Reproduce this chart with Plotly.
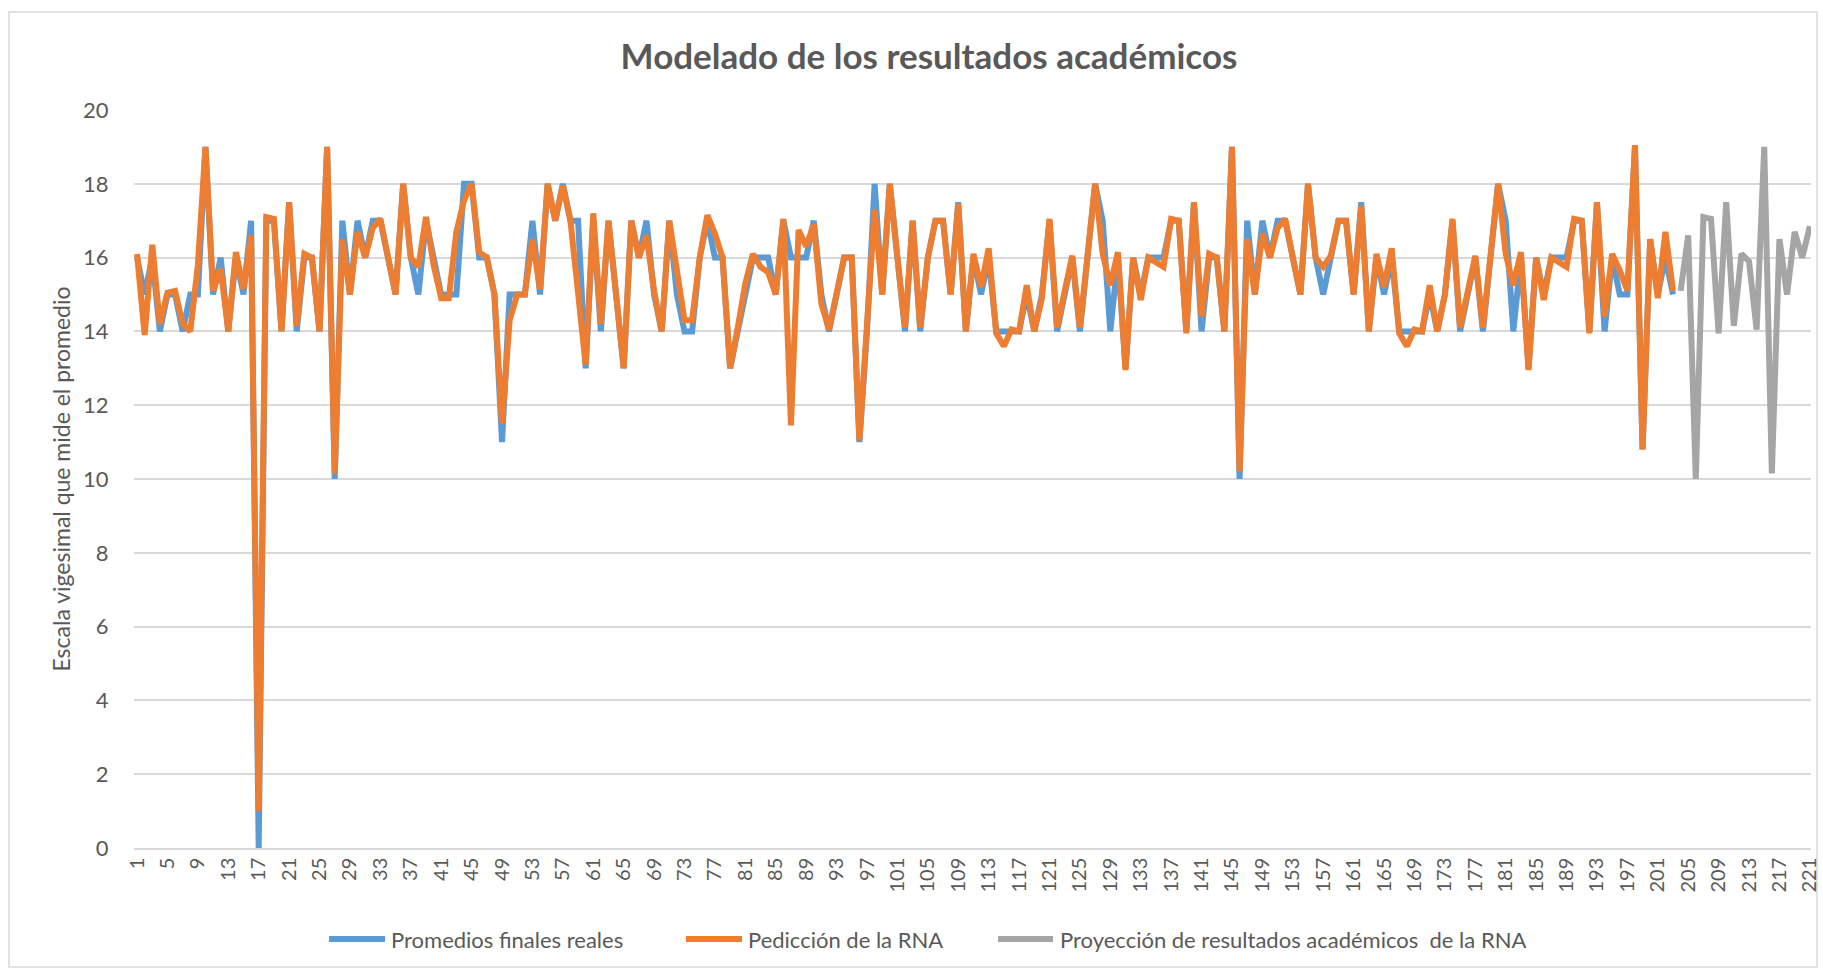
import plotly.graph_objects as go

title_text = "Modelado de los resultados académicos"
y_title = "Escala vigesimal que mide el promedio"
series_names = ["Promedios finales reales", "Pedicción de la RNA",
                "Proyección de resultados académicos  de la RNA"]

real_values = [
    16, 15, 16, 14, 15, 15, 14, 15, 15, 19, 15, 16, 14, 16, 15, 17, 0, 17, 17, 14,
    17.5, 14, 16, 16, 14, 19, 10, 17, 15, 17, 16, 17, 17, 16, 15, 18, 16, 15, 17, 16,
    15, 15, 15, 18, 18, 16, 16, 15, 11, 15, 15, 15, 17, 15, 18, 17, 18, 17, 17, 13,
    17, 14, 17, 15, 13, 17, 16, 17, 15, 14, 17, 15, 14, 14, 16, 17, 16, 16, 13, 14,
    15, 16, 16, 16, 15, 17, 16, 16, 16, 17, 15, 14, 15, 16, 16, 11, 14, 18, 15, 18,
    16, 14, 17, 14, 16, 17, 17, 15, 17.5, 14, 16, 15, 16, 14, 14, 14, 14, 15, 14, 15,
    17, 14, 15, 16, 14, 16, 18, 17, 14, 16, 13, 16, 15, 16, 16, 16, 17, 17, 14, 17.5,
    14, 16, 16, 14, 19, 10, 17, 15, 17, 16, 17, 17, 16, 15, 18, 16, 15, 16, 17, 17,
    15, 17.5, 14, 16, 15, 16, 14, 14, 14, 14, 15, 14, 15, 17, 14, 15, 16, 14, 16, 18,
    17, 14, 16, 13, 16, 15, 16, 16, 16, 17, 17, 14, 17.5, 14, 16, 15, 15, 19, 10.8, 16.5,
    15, 16, 15,
]

pred_values = [
    16.1, 13.9, 16.35, 14.2, 15.05, 15.1, 14.2, 14.0, 15.8, 19.0, 15.1, 15.7, 14.0, 16.15, 15.15, 16.6, 1.0, 17.1, 17.05, 14.0,
    17.5, 14.15, 16.1, 16.0, 14.0, 19.0, 10.15, 16.5, 15.0, 16.7, 16.0, 16.8, 17.05, 16.0, 15.0, 18.0, 16.0, 15.75, 17.1, 15.8,
    14.9, 14.9, 16.7, 17.55, 18.0, 16.15, 16.0, 15.0, 11.5, 14.3, 15.0, 15.0, 16.5, 15.15, 18.0, 17.0, 17.95, 17.0, 15.1, 13.1,
    17.2, 14.2, 17.0, 15.1, 13.0, 17.0, 16.0, 16.6, 15.1, 14.0, 17.0, 15.65, 14.3, 14.3, 16.0, 17.15, 16.65, 16.0, 13.0, 14.1,
    15.3, 16.1, 15.75, 15.6, 15.0, 17.05, 11.45, 16.75, 16.3, 16.9, 14.75, 14.05, 15.0, 16.0, 16.0, 11.05, 14.2, 17.3, 15.0, 18.0,
    16.0, 14.1, 17.0, 14.1, 16.0, 17.0, 17.0, 15.0, 17.45, 14.0, 16.1, 15.2, 16.25, 13.95, 13.6, 14.05, 14.0, 15.25, 14.0, 14.9,
    17.05, 14.1, 15.1, 16.05, 14.1, 16.0, 18.0, 16.1, 15.25, 16.15, 12.95, 16.0, 14.85, 16.0, 15.85, 15.75, 17.05, 17.0, 13.95, 17.5,
    14.4, 16.1, 16.0, 14.0, 19.0, 10.2, 16.5, 15.0, 16.65, 16.0, 16.8, 17.05, 16.0, 15.0, 18.0, 16.0, 15.75, 16.05, 17.0, 17.0,
    15.0, 17.4, 14.0, 16.1, 15.2, 16.25, 13.95, 13.6, 14.05, 14.0, 15.25, 14.0, 15.0, 17.05, 14.1, 15.1, 16.05, 14.1, 16.0, 18.0,
    16.1, 15.25, 16.15, 12.95, 16.0, 14.85, 16.0, 15.85, 15.75, 17.05, 17.0, 13.95, 17.5, 14.4, 16.1, 15.65, 15.1, 19.05, 10.8, 16.5,
    14.9, 16.7, 15.1,
]

proj_values = [15.1, 16.6, 10.0, 17.1, 17.05, 13.95, 17.5, 14.15, 16.1, 15.9,
               14.05, 19.0, 10.15, 16.5, 15.0, 16.7, 16.0, 16.85]

real_x = list(range(1, len(real_values) + 1))
pred_x = list(range(1, len(pred_values) + 1))
proj_x = list(range(len(pred_values) + 1, len(pred_values) + len(proj_values) + 1))

x_tick_vals = list(range(1, 222, 4))
x_tick_labels = [str(v) for v in x_tick_vals]
y_tick_vals = [0, 2, 4, 6, 8, 10, 12, 14, 16, 18, 20]

colors = ["#5B9BD5", "#ED7D31", "#A5A5A5"]
FONT = "Lato, Calibri, Carlito, sans-serif"
TXT = "#595959"
LW = 6

W_FIG, H_FIG = 1823, 971
M_L, M_R, M_T, M_B = 134, 12, 110, 123
PW = W_FIG - M_L - M_R
PH = H_FIG - M_T - M_B


def px_x(px):
    return (px - M_L) / PW


def px_y(py):
    return (H_FIG - M_B - py) / PH


fig = go.Figure()
fig.add_trace(go.Scatter(x=real_x, y=real_values, mode="lines", name=series_names[0],
                         line=dict(color=colors[0], width=LW, shape="linear")))
fig.add_trace(go.Scatter(x=pred_x, y=pred_values, mode="lines", name=series_names[1],
                         line=dict(color=colors[1], width=LW, shape="linear")))
fig.add_trace(go.Scatter(x=proj_x, y=proj_values, mode="lines", name=series_names[2],
                         line=dict(color=colors[2], width=LW, shape="linear")))

# custom legend (Excel-like long line keys), pixel positions
legend_line_px = [(329, 385), (686, 742), (998, 1053)]
legend_text_px = [389, 746, 1058]
legend_y = px_y(939)

shapes = [dict(type="rect", xref="paper", yref="paper", x0=px_x(9), x1=px_x(1817),
               y0=px_y(967), y1=px_y(12),
               line=dict(color="#D9D9D9", width=1.5), fillcolor="rgba(0,0,0,0)", layer="below")]
annotations = []
for k in range(3):
    shapes.append(dict(type="line", xref="paper", yref="paper",
                       x0=px_x(legend_line_px[k][0]), x1=px_x(legend_line_px[k][1]),
                       y0=legend_y, y1=legend_y,
                       line=dict(color=colors[k], width=LW)))
    annotations.append(dict(text=series_names[k], xref="paper", yref="paper",
                            x=px_x(legend_text_px[k]), y=legend_y, xanchor="left", yanchor="middle",
                            showarrow=False, font=dict(family=FONT, size=22, color=TXT)))

fig.update_layout(
    width=W_FIG, height=H_FIG,
    margin=dict(l=M_L, r=M_R, t=M_T, b=M_B, autoexpand=False),
    paper_bgcolor="white", plot_bgcolor="white",
    font=dict(family=FONT, color=TXT, size=21),
    title=dict(text="<b>" + title_text + "</b>", x=px_x(929), xref="paper", xanchor="center",
               y=0.942, yref="container", yanchor="middle",
               font=dict(family=FONT, size=35, color=TXT)),
    showlegend=False,
    xaxis=dict(range=[0.6, 221.15], tickmode="array", tickvals=x_tick_vals, ticktext=x_tick_labels,
               tickangle=-90, tickfont=dict(family=FONT, size=20, color=TXT), automargin=False,
               showgrid=False, zeroline=False, showline=True, linecolor="#D9D9D9", linewidth=1.5,
               ticks="", ticklen=0),
    yaxis=dict(range=[0, 20], tickmode="array", tickvals=y_tick_vals, automargin=False,
               tickfont=dict(family=FONT, size=22, color=TXT),
               showgrid=True, gridcolor="#D9D9D9", gridwidth=1.5, zeroline=False, showline=False,
               ticks="outside", ticklen=20, tickcolor="rgba(0,0,0,0)",
               title=dict(text=y_title, font=dict(family=FONT, size=23, color=TXT), standoff=6)),
    shapes=shapes,
    annotations=annotations,
)

fig.write_html("out.html", config={"displayModeBar": False},
               post_script="document.body.style.margin='0px';document.body.style.overflow='hidden';")
